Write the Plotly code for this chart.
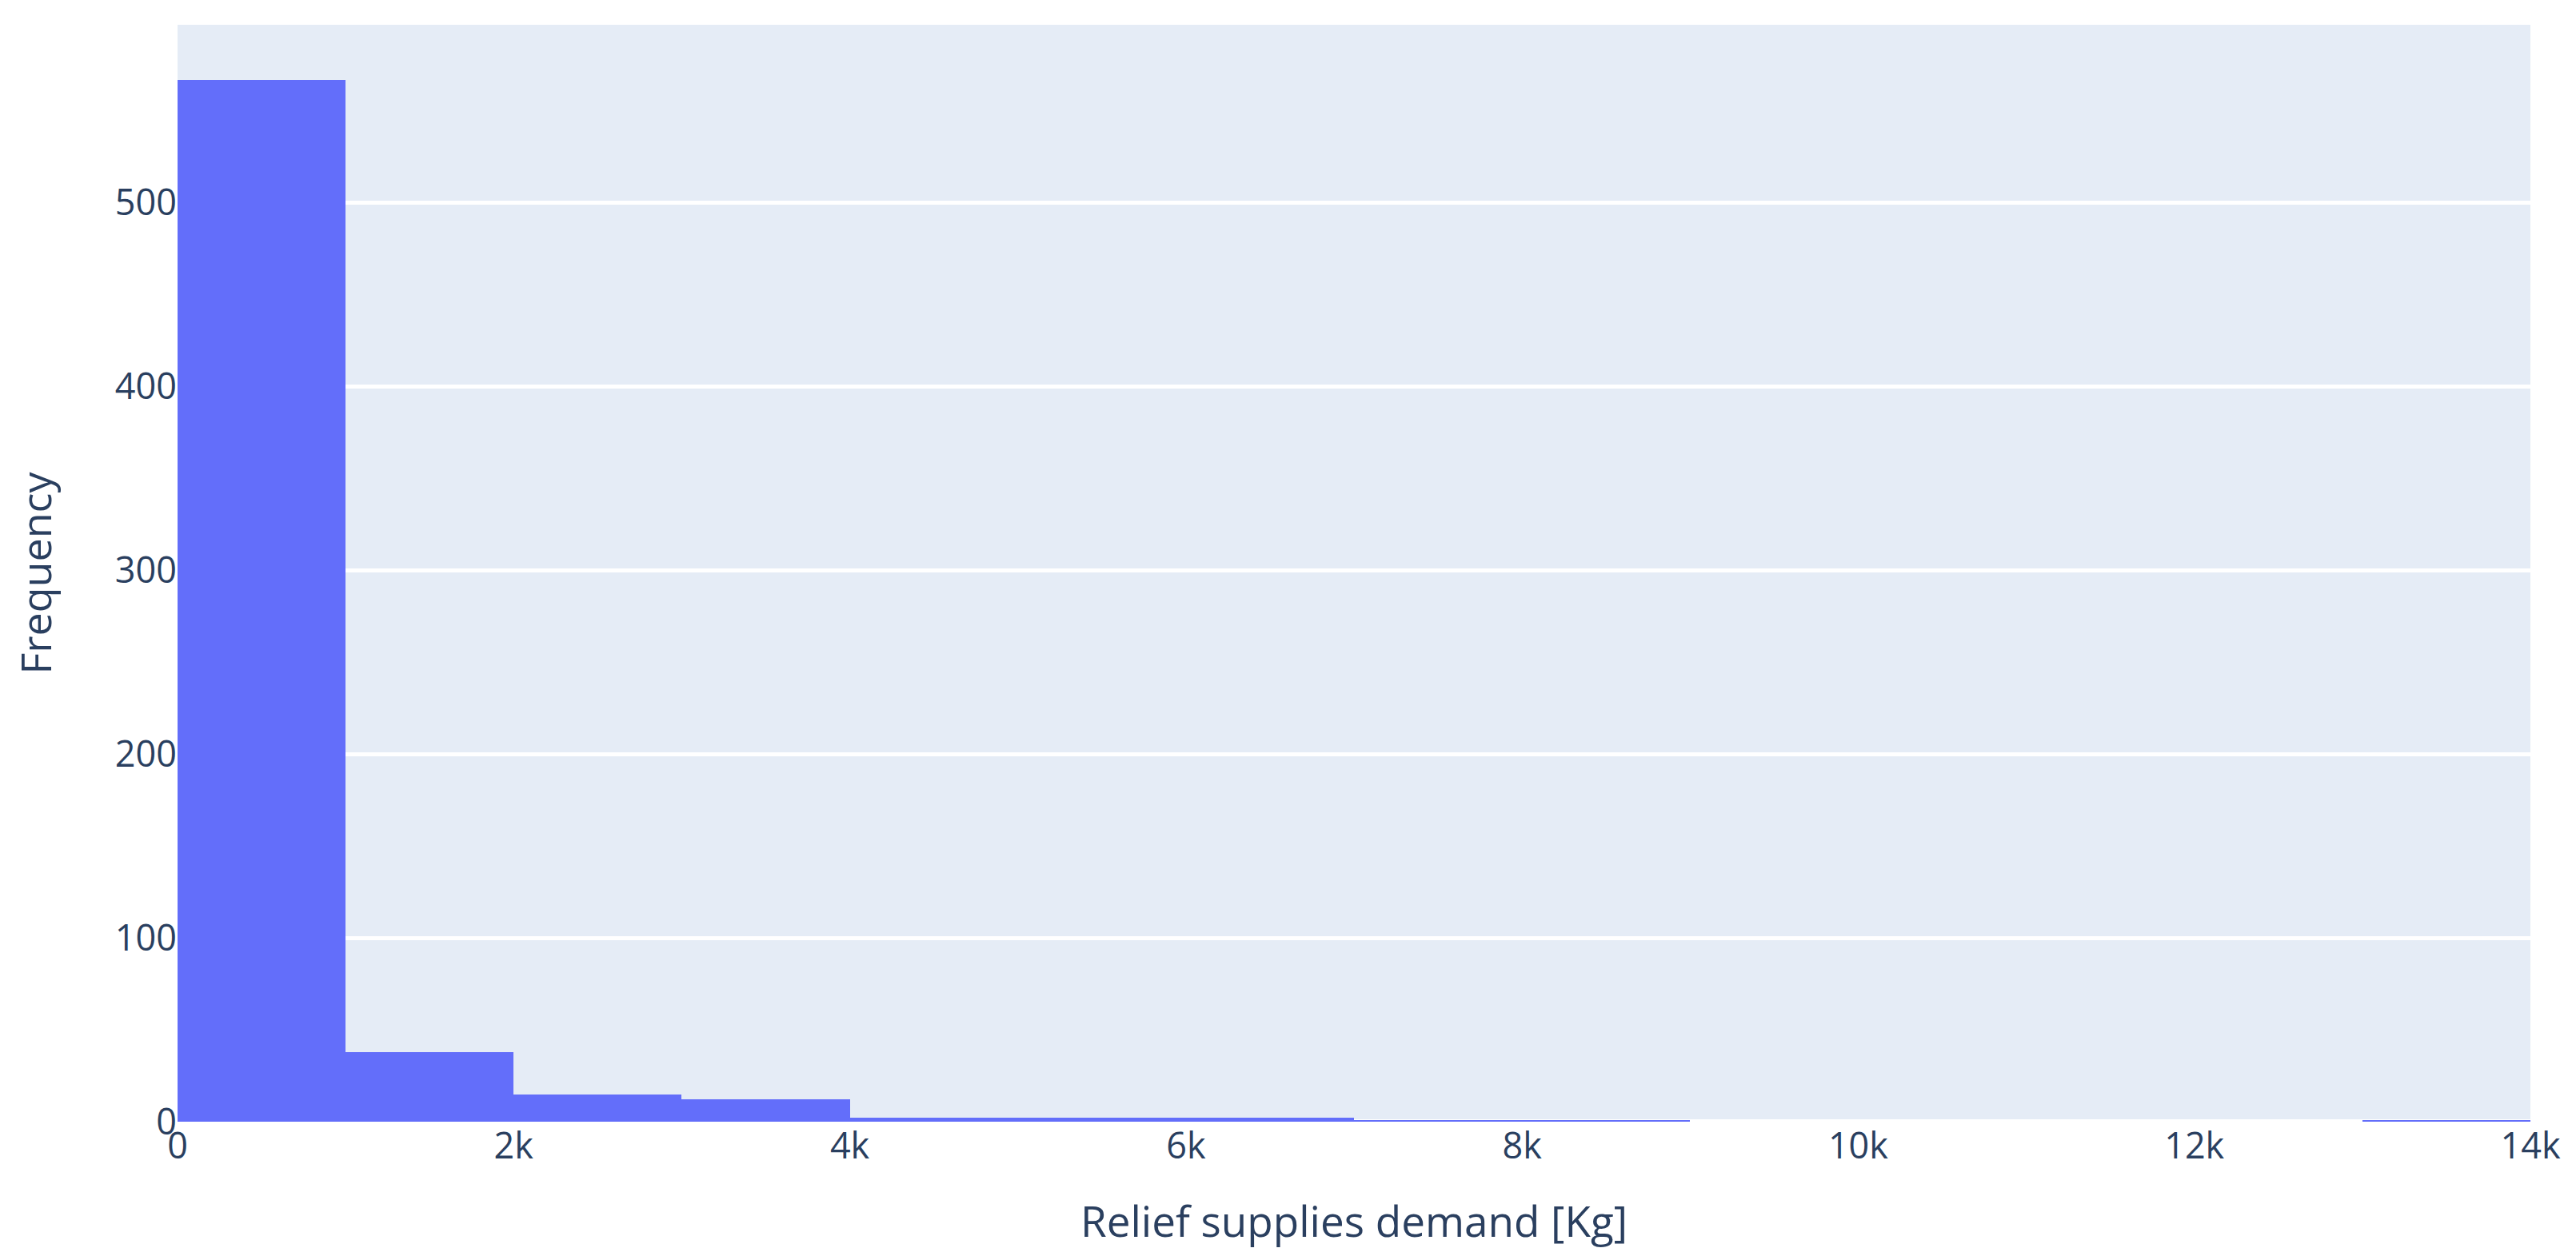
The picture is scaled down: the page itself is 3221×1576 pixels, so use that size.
import plotly.graph_objects as go

# =============================================================================
# Histogram counts (bins of 1000 kg)
# =============================================================================
bin_start = [0, 1000, 2000, 3000, 4000, 5000, 6000, 7000, 8000, 9000, 10000, 11000, 12000, 13000]
bin_size = 1000
counts = [567, 38, 15, 12, 2, 2, 2, 1, 1, 0, 0, 0, 0, 1]

x_tickvals = [0, 2000, 4000, 6000, 8000, 10000, 12000, 14000]
x_ticktext = ['0', '2k', '4k', '6k', '8k', '10k', '12k', '14k']

fig = go.Figure()
fig.add_trace(go.Bar(
    x=bin_start,
    y=counts,
    width=bin_size,
    offset=0,
    marker=dict(color='#636efa', line=dict(width=0)),
    name='Demand'
))

# page body keeps an 8px margin, so the figure is a bit smaller than the window
fig.update_layout(
    template='plotly',
    width=3205,
    height=1560,
    bargap=0,
    showlegend=False,
    font=dict(family='Open Sans', color='#2a3f5f', size=45),
    margin=dict(l=214, r=49, t=23, b=165, autoexpand=False),
    xaxis=dict(
        title=dict(text='Relief supplies demand [Kg]', font=dict(size=53), standoff=48),
        tickvals=x_tickvals,
        ticktext=x_ticktext,
        range=[0, 14000],
        tickfont=dict(size=45),
        showgrid=False,
        zeroline=False,
    ),
    yaxis=dict(
        title=dict(text='Frequency', font=dict(size=52), standoff=90),
        automargin=True,
        tickfont=dict(size=45),
        gridwidth=5,
        zerolinewidth=6,
        dtick=100,
    ),
)

fig.write_html("out.html")
